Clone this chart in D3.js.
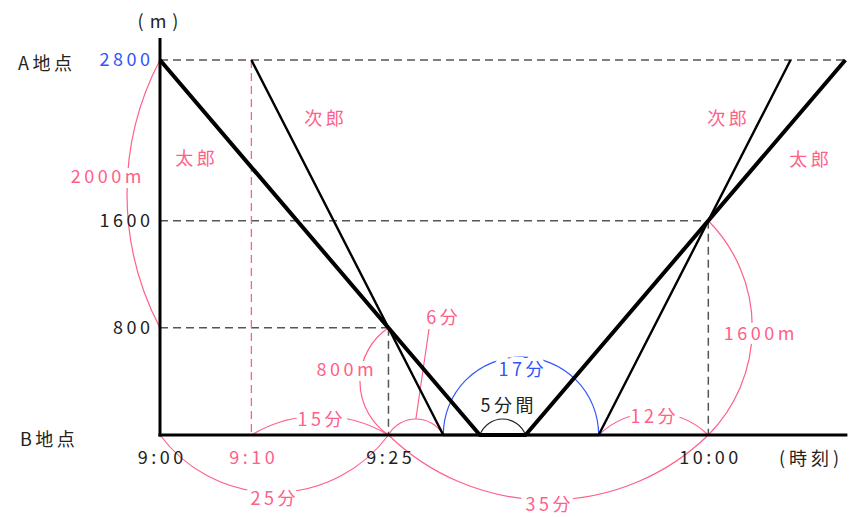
<!DOCTYPE html>
<html><head><meta charset="utf-8">
<script src="https://cdn.jsdelivr.net/npm/d3@7"></script>
<style>
html,body{margin:0;padding:0;background:#fff;}
svg{display:block;}
text{font-family:"Noto Sans CJK JP","Noto Sans",sans-serif;}
</style></head>
<body>
<script>
// ---- data ----
const timeTicks = [0, 10, 25, 60];               // minutes after 9:00
const timeLabels = ["9:00", "9:10", "9:25", "10:00"];
const distTicks = [800, 1600, 2800];
const distLabels = ["800", "1600", "2800"];
const taroTimes = [0, 35, 40, 75];
const taroDist = [2800, 0, 0, 2800];
const jiroTimes = [10, 31, 48, 69];
const jiroDist = [2800, 0, 0, 2800];
const arcFrom = [[0,2800],[25,800],[10,0],[0,0],[25,0],[31,0],[35,0],[48,0],[25,0],[60,1600]];
const arcTo   = [[0,800],[25,0],[25,0],[25,0],[31,0],[48,0],[40,0],[60,0],[60,0],[60,0]];
const arcLabels = ["2000m","800m","15分","25分","6分","17分","5分間","12分","35分","1600m"];

// ---- layout ----
const W = 852, H = 517;
const PINK = "#ff6088", BLUE = "#2f55ff", INK = "#222";
const x = d3.scaleLinear().domain([0, 75]).range([160, 845.4]);
const y = d3.scaleLinear().domain([0, 2800]).range([435, 60]);

const svg = d3.select("body").append("svg").attr("width", W).attr("height", H);

// arc geometry: sagitta (px), sweep flag, colour, label position
const arcStyle = [
  {s:33, sw:0, c:PINK, lx:106, ly:175},
  {s:28.5, sw:0, c:PINK, lx:345, ly:368},
  {s:19, sw:1, c:PINK, lx:320, ly:418},
  {s:57.5, sw:0, c:PINK, lx:273, ly:497},
  {s:16, sw:1, c:PINK, lx:442, ly:316},
  {s:77.9, sw:1, c:BLUE, lx:521, ly:368},
  {s:16, sw:1, c:INK, lx:507, ly:404},
  {s:22, sw:1, c:PINK, lx:653, ly:415},
  {s:65, sw:0, c:PINK, lx:548, ly:503},
  {s:44, sw:1, c:PINK, lx:759, ly:332}
];
function arcPath(p1, p2, s, sweep){
  const h = Math.hypot(p2[0]-p1[0], p2[1]-p1[1]) / 2;
  const r = (s*s + h*h) / (2*s);
  const large = s > h ? 1 : 0;
  return `M${p1[0]},${p1[1]}A${r},${r} 0 ${large} ${sweep} ${p2[0]},${p2[1]}`;
}

// dashed guide lines
const gDash = svg.append("g").attr("fill","none");
function dash(x1, y1, x2, y2, col, w){
  gDash.append("line").attr("x1", x1).attr("x2", x2).attr("y1", y1).attr("y2", y2)
    .attr("stroke", col).attr("stroke-width", w).attr("stroke-dasharray","8,5");
}
dash(x(0), y(2800), x(75), y(2800), "#555", 1.5);
dash(x(0), y(1600), x(60), y(1600), "#555", 1.5);
dash(x(0), y(800), x(25), y(800), "#555", 1.5);
dash(x(25), y(800), x(25), y(0), "#555", 1.5);
dash(x(60), y(1600), x(60), y(0), "#555", 1.5);
dash(x(10), y(2800), x(10), y(0), PINK, 1.3);

// annotation arcs
const gArc = svg.append("g").attr("fill","none");
arcFrom.forEach((f, i) => {
  const p1 = [x(f[0]), y(f[1])], p2 = [x(arcTo[i][0]), y(arcTo[i][1])];
  gArc.append("path").attr("d", arcPath(p1, p2, arcStyle[i].s, arcStyle[i].sw))
    .attr("stroke", arcStyle[i].c).attr("stroke-width", 1.2);
});
// pointer for 6分
{
  const mx = (x(25) + x(31)) / 2;
  gArc.append("line").attr("x1", mx).attr("y1", y(0) - arcStyle[4].s)
    .attr("x2", 429).attr("y2", 329).attr("stroke", PINK).attr("stroke-width", 1.2);
}

// labels with white halo (creates gaps in arcs)
const LS = 3.5;
function label(g, txt, cx, cy, color, size, halo, anchor, ls){
  const sp = ls === undefined ? LS : ls;
  const t = g.append("text").text(txt)
    .attr("x", cx + (anchor === "end" ? sp : anchor === "start" ? 0 : sp/2)).attr("y", cy)
    .attr("text-anchor", anchor || "middle").attr("dominant-baseline","central")
    .attr("font-size", size || 18).attr("letter-spacing", sp).attr("fill", color);
  if (halo) t.attr("stroke","#fff").attr("stroke-width",10).attr("paint-order","stroke").attr("stroke-linejoin","round");
  return t;
}
const gLab = svg.append("g");
arcLabels.forEach((l, i) => {
  label(gLab, l, arcStyle[i].lx, arcStyle[i].ly, arcStyle[i].c, 18, i !== 6 && i !== 4);
});

// axes
const gAx = svg.append("g");
gAx.append("line").attr("x1", x(0)).attr("x2", x(0)).attr("y1", 38).attr("y2", y(0) + 1.5)
  .attr("stroke","#000").attr("stroke-width",3);
gAx.append("line").attr("x1", x(0) - 1.5).attr("x2", x(75) + 2).attr("y1", y(0)).attr("y2", y(0))
  .attr("stroke","#000").attr("stroke-width",3);

// tick labels via d3 axes
const yAxis = d3.axisLeft(y).tickValues(distTicks).tickSize(0).tickPadding(10)
  .tickFormat((d, i) => distLabels[i]);
const gy = svg.append("g").attr("transform", `translate(${x(0)},0)`).call(yAxis);
gy.select(".domain").remove();
gy.selectAll("text").attr("font-size",18).attr("letter-spacing",LS).attr("dx", LS)
  .attr("font-family",'"Noto Sans CJK JP","Noto Sans",sans-serif')
  .attr("fill", d => d === 2800 ? BLUE : INK);

const xAxis = d3.axisBottom(x).tickValues(timeTicks).tickSize(0).tickPadding(16)
  .tickFormat((d, i) => timeLabels[i]);
const gx = svg.append("g").attr("transform", `translate(0,${y(0)})`).call(xAxis);
gx.select(".domain").remove();
gx.selectAll("text").attr("font-size",18).attr("letter-spacing",LS).attr("dx", LS/2)
  .attr("font-family",'"Noto Sans CJK JP","Noto Sans",sans-serif')
  .attr("fill", d => d === 10 ? PINK : INK);

// series lines
const line = d3.line().x(d => x(d[0])).y(d => y(d[1]));
svg.append("path").datum(jiroTimes.map((t, i) => [t, jiroDist[i]]))
  .attr("d", line).attr("fill","none").attr("stroke","#000").attr("stroke-width",2.4)
  .attr("stroke-linejoin","round");
svg.append("path").datum(taroTimes.map((t, i) => [t, taroDist[i]]))
  .attr("d", line).attr("fill","none").attr("stroke","#000").attr("stroke-width",4)
  .attr("stroke-linejoin","round");

// other text
const gT = svg.append("g");
label(gT, "(m)", 158, 20, INK, 18, false, "middle", 6);
label(gT, "A地点", 18, 62, INK, 18, false, "start");
label(gT, "B地点", 20, 438, INK, 18, false, "start");
label(gT, "(時刻)", 809, 457, INK, 18, false, "middle", 4);
label(gT, "太郎", 195, 157, PINK, 18, false);
label(gT, "次郎", 324, 117, PINK, 18, false);
label(gT, "次郎", 727, 117, PINK, 18, false);
label(gT, "太郎", 809, 158, PINK, 18, false);
</script>
</body></html>
